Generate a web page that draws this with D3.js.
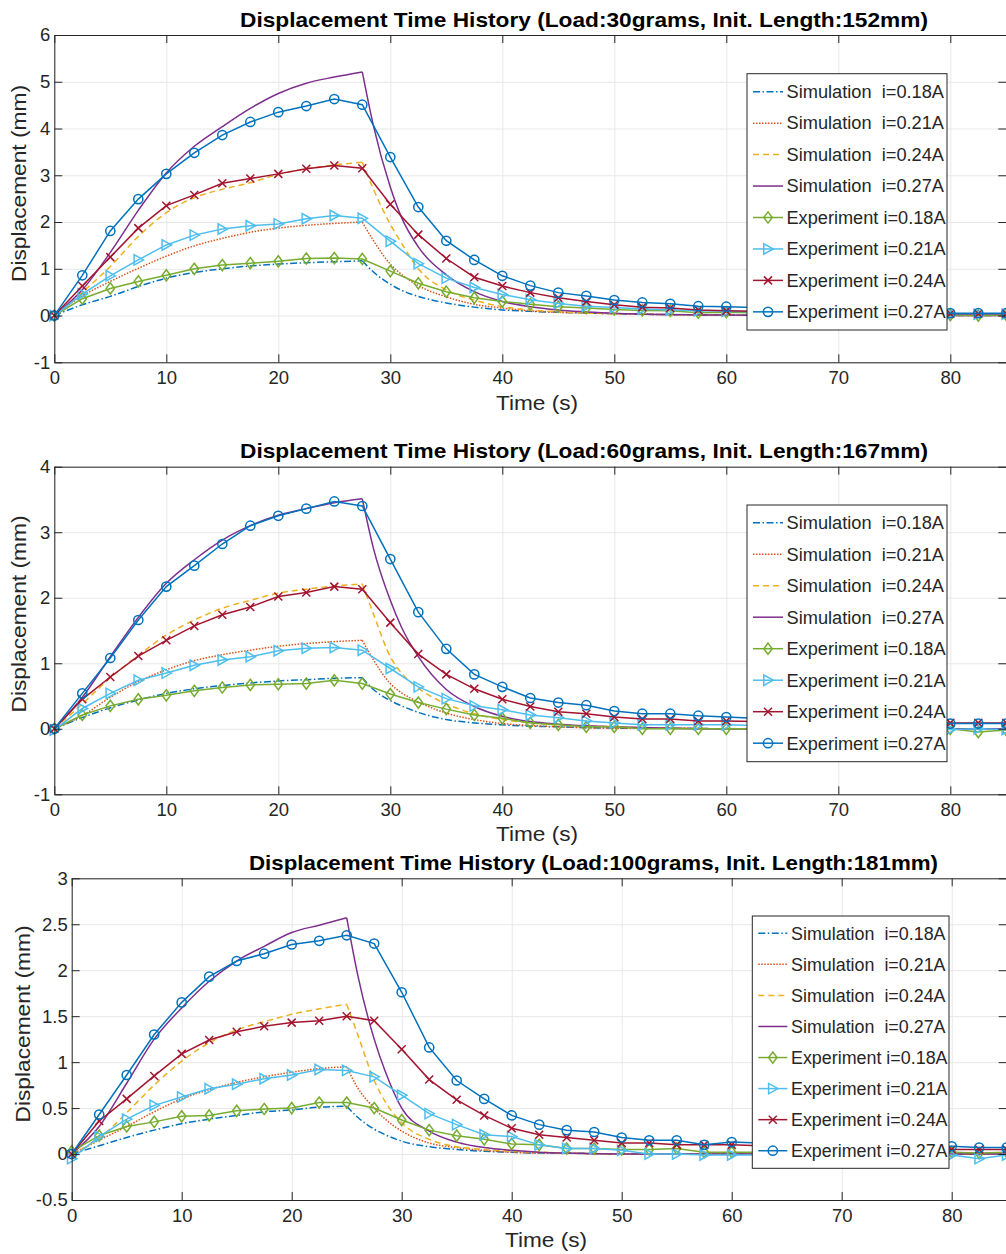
<!DOCTYPE html>
<html><head><meta charset="utf-8">
<script src="https://cdn.jsdelivr.net/npm/d3@7/dist/d3.min.js"></script>
<style>
body{margin:0;background:#fff;}
svg{display:block;font-family:"Liberation Sans",Arial,Helvetica,sans-serif;}
text{fill:#262626;}
.leg text{white-space:pre;}
</style>
</head><body>
<svg id="chart" width="1006" height="1254"></svg>
<script>
// ---------------- DATA ----------------
const titles = [
  "Displacement Time History (Load:30grams, Init. Length:152mm)",
  "Displacement Time History (Load:60grams, Init. Length:167mm)",
  "Displacement Time History (Load:100grams, Init. Length:181mm)"
];
const seriesNames = [
  "Simulation  i=0.18A", "Simulation  i=0.21A", "Simulation  i=0.24A", "Simulation  i=0.27A",
  "Experiment i=0.18A", "Experiment i=0.21A", "Experiment i=0.24A", "Experiment i=0.27A"
];
const xTicks = [0, 10, 20, 30, 40, 50, 60, 70, 80];
const yTicks1 = [-1, 0, 1, 2, 3, 4, 5, 6];
const yTicks2 = [-1, 0, 1, 2, 3, 4];
const yTicks3 = [-0.5, 0, 0.5, 1, 1.5, 2, 2.5, 3];

const expTime = [0, 2.5, 5, 7.5, 10, 12.5, 15, 17.5, 20, 22.5, 25, 27.5, 30, 32.5, 35, 37.5, 40, 42.5, 45, 47.5,
  50, 52.5, 55, 57.5, 60, 62.5, 65, 67.5, 70, 72.5, 75, 77.5, 80, 82.5, 85];
const simTimeA = [0, 2.5, 5, 7.5, 10, 12.5, 15, 17.5, 20, 22.5, 25, 27.5, 28.5, 30, 31, 32.5, 35, 37.5, 40, 42.5, 45, 50, 55, 60, 70, 85];
const simTimeB = [0, 2.5, 5, 7.5, 10, 12.5, 15, 17.5, 20, 22.5, 25, 26, 27.5, 28.5, 30, 32.5, 35, 37.5, 40, 42.5, 45, 50, 55, 60, 70, 85];

// Panel 1 (30 g)
const p1Sim018 = [0, 0.23, 0.41, 0.62, 0.8, 0.92, 1.0, 1.06, 1.1, 1.13, 1.15, 1.17, 0.93, 0.67, 0.54, 0.41, 0.27, 0.18, 0.12, 0.09, 0.07, 0.04, 0.02, 0.01, 0, 0];
const p1Sim021 = [0, 0.42, 0.73, 1.01, 1.27, 1.49, 1.65, 1.78, 1.87, 1.93, 1.97, 2.0, 1.6, 1.1, 0.88, 0.64, 0.4, 0.24, 0.16, 0.1, 0.07, 0.04, 0.02, 0.01, 0, 0];
const p1Sim024 = [0, 0.5, 1.05, 1.69, 2.2, 2.52, 2.7, 2.84, 3.02, 3.14, 3.22, 3.28, 2.7, 1.95, 1.55, 1.0, 0.55, 0.33, 0.19, 0.12, 0.08, 0.04, 0.02, 0.01, 0, 0];
const p1Sim027 = [0, 0.55, 1.35, 2.25, 3.05, 3.62, 4.04, 4.43, 4.75, 4.97, 5.1, 5.21, 4.05, 2.75, 2.1, 1.47, 0.87, 0.51, 0.3, 0.19, 0.12, 0.05, 0.02, 0.01, 0, 0];
const p1Exp018 = [0, 0.36, 0.58, 0.73, 0.86, 1.0, 1.08, 1.12, 1.16, 1.22, 1.23, 1.21, 0.95, 0.69, 0.51, 0.38, 0.3, 0.24, 0.19, 0.16,
  0.13, 0.11, 0.1, 0.06, 0.07, 0.06, 0.05, 0.04, 0.03, 0.03, 0.02, 0.02, 0.01, 0.0, 0.01];
const p1Exp021 = [0, 0.46, 0.85, 1.19, 1.51, 1.72, 1.85, 1.92, 1.96, 2.07, 2.14, 2.08, 1.59, 1.11, 0.8, 0.6, 0.45, 0.34, 0.26, 0.2,
  0.17, 0.14, 0.12, 0.1, 0.09, 0.08, 0.07, 0.06, 0.05, 0.04, 0.04, 0.03, 0.03, 0.03, 0.03];
const p1Exp024 = [0, 0.63, 1.25, 1.87, 2.35, 2.58, 2.83, 2.93, 3.03, 3.14, 3.21, 3.15, 2.38, 1.73, 1.22, 0.82, 0.63, 0.49, 0.38, 0.3,
  0.23, 0.18, 0.16, 0.12, 0.1, 0.09, 0.08, 0.07, 0.06, 0.05, 0.05, 0.04, 0.04, 0.04, 0.04];
const p1Exp027 = [0, 0.86, 1.81, 2.49, 3.03, 3.48, 3.86, 4.14, 4.35, 4.48, 4.63, 4.51, 3.39, 2.32, 1.6, 1.19, 0.85, 0.64, 0.49, 0.42,
  0.33, 0.28, 0.25, 0.2, 0.19, 0.17, 0.15, 0.13, 0.11, 0.09, 0.08, 0.07, 0.05, 0.05, 0.05];

// Panel 2 (60 g)
const p2Sim018 = [0, 0.17, 0.32, 0.44, 0.54, 0.61, 0.66, 0.7, 0.73, 0.75, 0.77, 0.78, 0.6, 0.43, 0.35, 0.25, 0.14, 0.09, 0.06, 0.04, 0.03, 0.01, 0.01, 0, 0, 0];
const p2Sim021 = [0, 0.2, 0.48, 0.72, 0.9, 1.04, 1.13, 1.2, 1.26, 1.3, 1.33, 1.35, 1.05, 0.69, 0.55, 0.41, 0.24, 0.14, 0.08, 0.05, 0.03, 0.01, 0.01, 0, 0, 0];
const p2Sim024 = [0, 0.38, 0.78, 1.12, 1.43, 1.66, 1.84, 1.96, 2.07, 2.13, 2.18, 2.21, 1.75, 1.1, 0.85, 0.62, 0.38, 0.23, 0.14, 0.09, 0.06, 0.03, 0.01, 0, 0, 0];
const p2Sim027 = [0, 0.48, 1.1, 1.7, 2.22, 2.58, 2.88, 3.1, 3.26, 3.36, 3.45, 3.51, 2.75, 1.96, 1.55, 1.1, 0.6, 0.34, 0.19, 0.11, 0.07, 0.03, 0.01, 0, 0, 0];
const p2Exp018 = [0, 0.21, 0.35, 0.45, 0.51, 0.58, 0.63, 0.67, 0.68, 0.69, 0.74, 0.69, 0.53, 0.4, 0.3, 0.21, 0.16, 0.09, 0.06, 0.03,
  0.03, 0, 0, 0, 0, 0, 0, 0, 0, 0, 0, 0, 0, -0.05, -0.02];
const p2Exp021 = [-0.02, 0.31, 0.54, 0.74, 0.85, 0.97, 1.05, 1.1, 1.19, 1.23, 1.24, 1.2, 0.92, 0.64, 0.46, 0.35, 0.29, 0.21, 0.17, 0.12,
  0.09, 0.06, 0.06, 0.06, 0.06, 0.05, 0.04, 0.04, 0.03, 0.02, 0.01, 0.0, -0.01, 0.0, -0.01];
const p2Exp024 = [0, 0.45, 0.79, 1.11, 1.35, 1.57, 1.74, 1.86, 2.02, 2.08, 2.17, 2.13, 1.62, 1.14, 0.83, 0.61, 0.45, 0.34, 0.26, 0.23,
  0.18, 0.15, 0.15, 0.12, 0.12, 0.11, 0.11, 0.1, 0.1, 0.09, 0.09, 0.09, 0.09, 0.09, 0.09];
const p2Exp027 = [0, 0.54, 1.08, 1.66, 2.17, 2.49, 2.82, 3.1, 3.25, 3.36, 3.47, 3.4, 2.59, 1.78, 1.22, 0.83, 0.64, 0.47, 0.4, 0.36,
  0.27, 0.23, 0.23, 0.2, 0.18, 0.16, 0.15, 0.14, 0.12, 0.11, 0.1, 0.09, 0.08, 0.08, 0.08];

// Panel 3 (100 g)
const p3Sim018 = [0, 0.09, 0.18, 0.26, 0.33, 0.38, 0.42, 0.46, 0.48, 0.51, 0.52, 0.4, 0.27, 0.21, 0.14, 0.08, 0.05, 0.03, 0.02, 0.01, 0.01, 0, 0, 0, 0, 0];
const p3Sim021 = [0, 0.15, 0.3, 0.46, 0.6, 0.7, 0.78, 0.84, 0.89, 0.93, 0.95, 0.72, 0.5, 0.38, 0.25, 0.12, 0.07, 0.04, 0.02, 0.01, 0.01, 0, 0, 0, 0, 0];
const p3Sim024 = [0, 0.17, 0.45, 0.75, 1.01, 1.21, 1.35, 1.44, 1.52, 1.58, 1.63, 1.3, 0.8, 0.57, 0.34, 0.16, 0.08, 0.05, 0.03, 0.02, 0.01, 0, 0, 0, 0, 0];
const p3Sim027 = [0, 0.3, 0.77, 1.25, 1.59, 1.88, 2.1, 2.26, 2.41, 2.49, 2.57, 1.95, 1.25, 0.9, 0.5, 0.25, 0.13, 0.07, 0.04, 0.02, 0.01, 0, 0, 0, 0, 0];
const p3Exp018 = [0.03, 0.2, 0.3, 0.35, 0.41, 0.42, 0.47, 0.49, 0.5, 0.56, 0.56, 0.5, 0.37, 0.26, 0.2, 0.16, 0.11, 0.1, 0.06, 0.06,
  0.05, 0.05, 0.06, 0.02, 0.02, 0.02, 0.02, 0.02, 0.02, 0.02, 0.02, 0.02, 0.02, 0.01, 0.02];
const p3Exp021 = [-0.05, 0.19, 0.38, 0.53, 0.62, 0.71, 0.76, 0.82, 0.86, 0.92, 0.91, 0.84, 0.64, 0.44, 0.32, 0.21, 0.19, 0.1, 0.06, 0.06,
  0.04, 0, 0, -0.01, -0.01, -0.01, -0.01, -0.01, -0.01, -0.01, -0.01, -0.01, -0.01, -0.05, -0.01];
const p3Exp024 = [0, 0.36, 0.6, 0.85, 1.09, 1.24, 1.33, 1.39, 1.43, 1.45, 1.5, 1.45, 1.14, 0.81, 0.59, 0.42, 0.28, 0.21, 0.18, 0.15,
  0.12, 0.12, 0.1, 0.1, 0.1, 0.09, 0.08, 0.08, 0.07, 0.06, 0.06, 0.05, 0.05, 0.05, 0.05];
const p3Exp027 = [0, 0.43, 0.86, 1.3, 1.65, 1.93, 2.1, 2.18, 2.28, 2.32, 2.38, 2.29, 1.76, 1.16, 0.8, 0.6, 0.42, 0.32, 0.26, 0.24,
  0.18, 0.15, 0.15, 0.1, 0.13, 0.12, 0.11, 0.1, 0.1, 0.09, 0.09, 0.09, 0.085, 0.07, 0.07];

// ---------------- STYLES ----------------
const simStyles = [
  {color: "#0072BD", dash: "7,2.5,1.5,2.5"},
  {color: "#D95319", dash: "1.5,1.5"},
  {color: "#EDB120", dash: "6,4"},
  {color: "#7E2F8E", dash: null}
];
const expStyles = [
  {color: "#77AC30", marker: "diamond"},
  {color: "#4DBEEE", marker: "triangle"},
  {color: "#A2142F", marker: "x"},
  {color: "#0072BD", marker: "circle"}
];

const panels = [
  {title: titles[0], yDomain: [-1, 6], yTicks: yTicks1, simT: simTimeA, peak: 27.5,
   sims: [p1Sim018, p1Sim021, p1Sim024, p1Sim027], exps: [p1Exp018, p1Exp021, p1Exp024, p1Exp027],
   box: {l: 54.3, r: 1006.3, t: 35, b: 362.3},
   titlePos: [584, 26.5], titleLen: 688, xlabPos: [537, 410], ylabPos: [26, 183.5],
   legend: {x: 747, y: 73.7, w: 200, h: 256.3, first: 18, step: 31.45, lx0: 753, lx1: 783, tx: 786.5, simLen: 157.5, expLen: 159}},
  {title: titles[1], yDomain: [-1, 4], yTicks: yTicks2, simT: simTimeA, peak: 27.5,
   sims: [p2Sim018, p2Sim021, p2Sim024, p2Sim027], exps: [p2Exp018, p2Exp021, p2Exp024, p2Exp027],
   box: {l: 54.3, r: 1006.3, t: 466.7, b: 794.3},
   titlePos: [584, 457.5], titleLen: 688, xlabPos: [537, 841], ylabPos: [26, 614],
   legend: {x: 747, y: 505, w: 200, h: 256.7, first: 17.7, step: 31.5, lx0: 753, lx1: 783, tx: 786.5, simLen: 157.5, expLen: 159}},
  {title: titles[2], yDomain: [-0.5, 3], yTicks: yTicks3, simT: simTimeB, peak: 25,
   sims: [p3Sim018, p3Sim021, p3Sim024, p3Sim027], exps: [p3Exp018, p3Exp021, p3Exp024, p3Exp027],
   box: {l: 71.7, r: 1006.7, t: 878.3, b: 1200},
   titlePos: [593.5, 870], titleLen: 689, xlabPos: [546, 1247], ylabPos: [30, 1024],
   legend: {x: 752.3, y: 916, w: 196.7, h: 252.3, first: 17.3, step: 31.06, lx0: 758.3, lx1: 787.3, tx: 791, simLen: 154.5, expLen: 156.5}}
];

const svg = d3.select("#chart");
const AX = "#262626";

function drawMarker(g, type, cx, cy, color) {
  if (type === "circle") {
    g.append("circle").attr("cx", cx).attr("cy", cy).attr("r", 4.6)
      .attr("fill", "none").attr("stroke", color).attr("stroke-width", 1.5);
  } else if (type === "diamond") {
    g.append("path").attr("d", `M${cx},${cy-5.6}L${cx+4.2},${cy}L${cx},${cy+5.6}L${cx-4.2},${cy}Z`)
      .attr("fill", "none").attr("stroke", color).attr("stroke-width", 1.5);
  } else if (type === "triangle") {
    g.append("path").attr("d", `M${cx+5.2},${cy}L${cx-4.2},${cy-5.2}L${cx-4.2},${cy+5.2}Z`)
      .attr("fill", "none").attr("stroke", color).attr("stroke-width", 1.5);
  } else if (type === "x") {
    const s = 4;
    g.append("path").attr("d", `M${cx-s},${cy-s}L${cx+s},${cy+s}M${cx-s},${cy+s}L${cx+s},${cy-s}`)
      .attr("fill", "none").attr("stroke", color).attr("stroke-width", 1.5);
  }
}

panels.forEach((p, pi) => {
  const B = p.box;
  const x = d3.scaleLinear().domain([0, 85]).range([B.l, B.r]);
  const y = d3.scaleLinear().domain(p.yDomain).range([B.b, B.t]);
  const g = svg.append("g");

  // grid
  g.append("g").attr("transform", `translate(0,${B.b})`)
    .call(d3.axisBottom(x).tickValues(xTicks).tickSize(-(B.b - B.t)).tickSizeOuter(0).tickFormat(""))
    .call(s => { s.select(".domain").remove(); s.selectAll("line").attr("stroke", "#e8e8e8").attr("stroke-width", 1); });
  g.append("g").attr("transform", `translate(${B.l},0)`)
    .call(d3.axisLeft(y).tickValues(p.yTicks).tickSize(-(B.r - B.l)).tickSizeOuter(0).tickFormat(""))
    .call(s => { s.select(".domain").remove(); s.selectAll("line").attr("stroke", "#e8e8e8").attr("stroke-width", 1); });

  const clipId = "clip" + pi;
  g.append("clipPath").attr("id", clipId).append("rect")
    .attr("x", B.l).attr("y", B.t).attr("width", B.r - B.l).attr("height", B.b - B.t);

  // simulation lines, split at the switch-off time so the corner stays sharp
  const simLine = d3.line().x(d => x(d[0])).y(d => y(d[1])).curve(d3.curveMonotoneX);
  p.sims.forEach((vals, si) => {
    const pts = p.simT.map((t, i) => [t, vals[i]]);
    const rise = pts.filter(d => d[0] <= p.peak);
    const fall = pts.filter(d => d[0] >= p.peak);
    const st = simStyles[si];
    [rise, fall].forEach(seg => {
      g.append("path").attr("d", simLine(seg)).attr("fill", "none")
        .attr("stroke", st.color).attr("stroke-width", 1.5)
        .attr("stroke-dasharray", st.dash).attr("clip-path", `url(#${clipId})`);
    });
  });

  // experiment lines + markers
  const expLine = d3.line().x(d => x(d[0])).y(d => y(d[1]));
  p.exps.forEach((vals, ei) => {
    const st = expStyles[ei];
    const pts = expTime.map((t, i) => [t, vals[i]]);
    g.append("path").attr("d", expLine(pts)).attr("fill", "none")
      .attr("stroke", st.color).attr("stroke-width", 1.5).attr("clip-path", `url(#${clipId})`);
    const mg = g.append("g");
    pts.forEach(d => drawMarker(mg, st.marker, x(d[0]), y(d[1]), st.color));
  });

  // axes (inward ticks on all four sides)
  const fs = "18.5px";
  g.append("g").attr("transform", `translate(0,${B.b})`)
    .call(d3.axisBottom(x).tickValues(xTicks).tickSize(-8).tickSizeOuter(0).tickPadding(9).tickFormat(d3.format("d")))
    .call(s => { s.select(".domain").attr("stroke", AX); s.selectAll("line").attr("stroke", AX);
      s.selectAll("text").attr("fill", AX).style("font-size", fs); });
  g.append("g").attr("transform", `translate(0,${B.t})`)
    .call(d3.axisTop(x).tickValues(xTicks).tickSize(-8).tickSizeOuter(0).tickFormat(""))
    .call(s => { s.select(".domain").attr("stroke", AX); s.selectAll("line").attr("stroke", AX); });
  g.append("g").attr("transform", `translate(${B.l},0)`)
    .call(d3.axisLeft(y).tickValues(p.yTicks).tickSize(-8).tickSizeOuter(0).tickPadding(4).tickFormat(d => String(d)))
    .call(s => { s.select(".domain").attr("stroke", AX); s.selectAll("line").attr("stroke", AX);
      s.selectAll("text").attr("fill", AX).style("font-size", fs); });
  g.append("g").attr("transform", `translate(${B.r},0)`)
    .call(d3.axisRight(y).tickValues(p.yTicks).tickSize(-8).tickSizeOuter(0).tickFormat(""))
    .call(s => { s.select(".domain").attr("stroke", AX); s.selectAll("line").attr("stroke", AX); });
  g.selectAll("g[font-family]").attr("font-family", null).attr("font-size", null);

  // labels
  g.append("text").attr("x", p.titlePos[0]).attr("y", p.titlePos[1]).attr("text-anchor", "middle")
    .attr("textLength", p.titleLen).attr("lengthAdjust", "spacingAndGlyphs")
    .style("font-size", "20.5px").style("font-weight", "bold").style("fill", "#000").text(p.title);
  g.append("text").attr("x", p.xlabPos[0]).attr("y", p.xlabPos[1]).attr("text-anchor", "middle")
    .attr("textLength", 82).attr("lengthAdjust", "spacingAndGlyphs")
    .style("font-size", "21px").text("Time (s)");
  g.append("text").attr("transform", `translate(${p.ylabPos[0]},${p.ylabPos[1]}) rotate(-90)`)
    .attr("text-anchor", "middle").attr("textLength", 197).attr("lengthAdjust", "spacingAndGlyphs")
    .style("font-size", "21px").text("Displacement (mm)");

  // legend
  const L = p.legend;
  const lg = g.append("g").attr("class", "leg");
  lg.append("rect").attr("x", L.x).attr("y", L.y).attr("width", L.w).attr("height", L.h)
    .attr("fill", "#fff").attr("stroke", AX).attr("stroke-width", 1);
  seriesNames.forEach((name, i) => {
    const cy = L.y + L.first + i * L.step;
    if (i < 4) {
      const st = simStyles[i];
      lg.append("line").attr("x1", L.lx0).attr("x2", L.lx1).attr("y1", cy).attr("y2", cy)
        .attr("stroke", st.color).attr("stroke-width", 1.5).attr("stroke-dasharray", st.dash);
    } else {
      const st = expStyles[i - 4];
      lg.append("line").attr("x1", L.lx0).attr("x2", L.lx1).attr("y1", cy).attr("y2", cy)
        .attr("stroke", st.color).attr("stroke-width", 1.5);
      drawMarker(lg, st.marker, (L.lx0 + L.lx1) / 2, cy, st.color);
    }
    lg.append("text").attr("x", L.tx).attr("y", cy).attr("dy", "0.36em")
      .attr("textLength", i < 4 ? L.simLen : L.expLen).attr("lengthAdjust", "spacingAndGlyphs")
      .style("font-size", "17.5px").text(name);
  });
});
</script>
</body></html>
